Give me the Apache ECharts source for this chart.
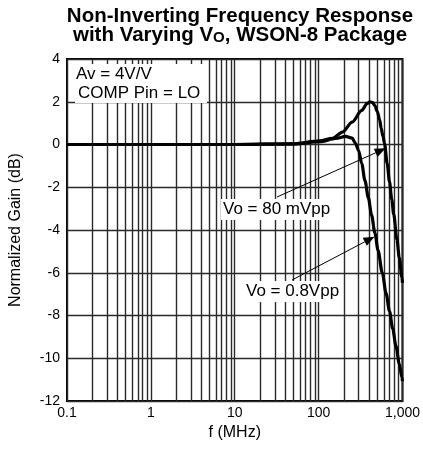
<!DOCTYPE html>
<html>
<head>
<meta charset="utf-8">
<script src="https://cdn.jsdelivr.net/npm/echarts@6/dist/echarts.min.js"></script>
<style>
html,body{margin:0;padding:0;background:#fff;}
#c{width:423px;height:451px;}
</style>
</head>
<body>
<div id="c"></div>
<script>
// ---- data ----
var freq80 = [0.1, 1, 10, 50, 103, 147, 192, 251, 327, 380, 410, 440, 468, 500, 535, 558, 585, 612, 657, 700, 745, 786, 858, 916, 983, 1000];
var gain80 = [0, 0, 0, 0.03, 0.17, 0.29, 0.58, 1.05, 1.6, 1.92, 2.0, 1.96, 1.82, 1.55, 1.15, 0.75, 0.38, 0.03, -0.89, -1.75, -2.56, -3.27, -4.44, -5.3, -6.22, -6.47];
var freq08 = [0.1, 1, 10, 50, 103, 160, 210, 251, 274, 300, 327, 357, 392, 428, 469, 511, 574, 639, 700, 765, 836, 916, 983, 1000];
var gain08 = [0, 0, 0, 0.03, 0.13, 0.28, 0.38, 0.3, 0.07, -0.28, -0.9, -1.69, -2.5, -3.3, -4.14, -4.95, -6.0, -6.98, -7.8, -8.62, -9.43, -10.26, -10.9, -11.07];
var xTickValues = [0.1, 1, 10, 100, 1000];
var xTickLabels = ['0.1', '1', '10', '100', '1,000'];
var minorGridX = [0.2,0.3,0.4,0.5,0.6,0.7,0.8,0.9, 2,3,4,5,6,7,8,9, 20,30,40,50,60,70,80,90, 200,300,400,500,600,700,800,900];
var seriesNames = ['Vo = 80 mVpp', 'Vo = 0.8Vpp'];

function pairs(xs, ys) { return xs.map(function (x, i) { return [x, ys[i]]; }); }

function arrow(x1, y1, x2, y2) {
  var dx = x2 - x1, dy = y2 - y1, L = Math.sqrt(dx*dx + dy*dy);
  var ux = dx / L, uy = dy / L, hl = 11, hw = 4.5;
  var bx = x2 - ux * hl, by = y2 - uy * hl;
  return [
    { type: 'line', z: 50, shape: { x1: x1, y1: y1, x2: bx, y2: by }, style: { stroke: '#000', lineWidth: 1 } },
    { type: 'polygon', z: 50, shape: { points: [[x2, y2], [bx - uy * hw, by + ux * hw], [bx + uy * hw, by - ux * hw]] }, style: { fill: '#000' } }
  ];
}

var chart = echarts.init(document.getElementById('c'), null, { renderer: 'canvas' });
var FONT = '"Liberation Sans", Arial, Helvetica, sans-serif';
var GRID_COLOR = '#2a2a2a';

var graphics = [
  { type: 'text', z: 60, x: 240, y: 6, style: { text: 'Non-Inverting Frequency Response', font: 'bold 20.5px ' + FONT, fill: '#000', textAlign: 'center' } },
  { type: 'text', z: 60, x: 240, y: 25, style: {
      text: '{m|with Varying V}{s|O}{m|, WSON-8 Package}', textAlign: 'center',
      rich: { m: { fontFamily: FONT, fontWeight: 'bold', fontSize: 20.5, lineHeight: 20, fill: '#000', verticalAlign: 'top' },
              s: { fontFamily: FONT, fontWeight: 'bold', fontSize: 15, lineHeight: 15, fill: '#000', verticalAlign: 'bottom', padding: [8, 0, 0, 0] } } } },
  { type: 'rect', z: 40, shape: { x: 75, y: 64, width: 132, height: 39 }, style: { fill: '#fff' } },
  { type: 'text', z: 45, x: 76, y: 66, style: { text: 'Av = 4V/V', font: '17px ' + FONT, fill: '#000' } },
  { type: 'text', z: 45, x: 78, y: 85, style: { text: 'COMP Pin = LO', font: '17px ' + FONT, fill: '#000' } },
  { type: 'text', z: 45, x: 221, y: 199, style: { text: seriesNames[0], font: '17px ' + FONT, fill: '#000', backgroundColor: '#fff', padding: [2, 2, 2, 2] } },
  { type: 'text', z: 45, x: 244, y: 281, style: { text: seriesNames[1], font: '17px ' + FONT, fill: '#000', backgroundColor: '#fff', padding: [2, 2, 2, 2] } }
].concat(arrow(277, 197, 385.7, 148.3)).concat(arrow(292, 280, 374.5, 236.7));

var option = {
  animation: false,
  backgroundColor: '#fff',
  grid: { left: 62, right: 18, top: 59, bottom: 50, show: true, borderColor: '#000', borderWidth: 2, backgroundColor: 'transparent' },
  xAxis: {
    type: 'log', logBase: 10, min: 0.1, max: 1000,
    name: 'f (MHz)', nameLocation: 'middle', nameGap: 19,
    nameTextStyle: { fontFamily: FONT, fontSize: 16, color: '#000' },
    axisLine: { show: false }, axisTick: { show: false },
    axisLabel: { fontFamily: FONT, fontSize: 14, color: '#000', margin: 5,
      formatter: function (v) { var i = xTickValues.findIndex(function (t) { return Math.abs(Math.log10(t) - Math.log10(v)) < 1e-6; }); return i >= 0 ? xTickLabels[i] : ''; } },
    splitLine: { show: true, lineStyle: { color: GRID_COLOR, width: 1.4 } }
  },
  yAxis: {
    type: 'value', min: -12, max: 4, interval: 2,
    name: 'Normalized Gain (dB)', nameLocation: 'middle', nameGap: 43,
    nameTextStyle: { fontFamily: FONT, fontSize: 16, color: '#000' },
    axisLine: { show: false }, axisTick: { show: false },
    axisLabel: { fontFamily: FONT, fontSize: 14, color: '#000', margin: 7 },
    splitLine: { show: true, lineStyle: { color: GRID_COLOR, width: 1.4 } }
  },
  series: [
    { type: 'line', name: 'grid', data: [], z: 1, silent: true,
      markLine: { silent: true, symbol: 'none', animation: false, label: { show: false },
        lineStyle: { color: GRID_COLOR, width: 1.4, type: 'solid' },
        emphasis: { disabled: true },
        data: minorGridX.map(function (v) { return { xAxis: v }; }) } },
    { type: 'line', name: seriesNames[0], data: pairs(freq80, gain80), showSymbol: false, smooth: 0.3, smoothMonotone: 'x', z: 5,
      lineStyle: { color: '#000', width: 3.2 } },
    { type: 'line', name: seriesNames[1], data: pairs(freq08, gain08), showSymbol: false, smooth: 0.3, smoothMonotone: 'x', z: 5,
      lineStyle: { color: '#000', width: 3.2 } }
  ],
  graphic: graphics
};
chart.setOption(option);
</script>
</body>
</html>
